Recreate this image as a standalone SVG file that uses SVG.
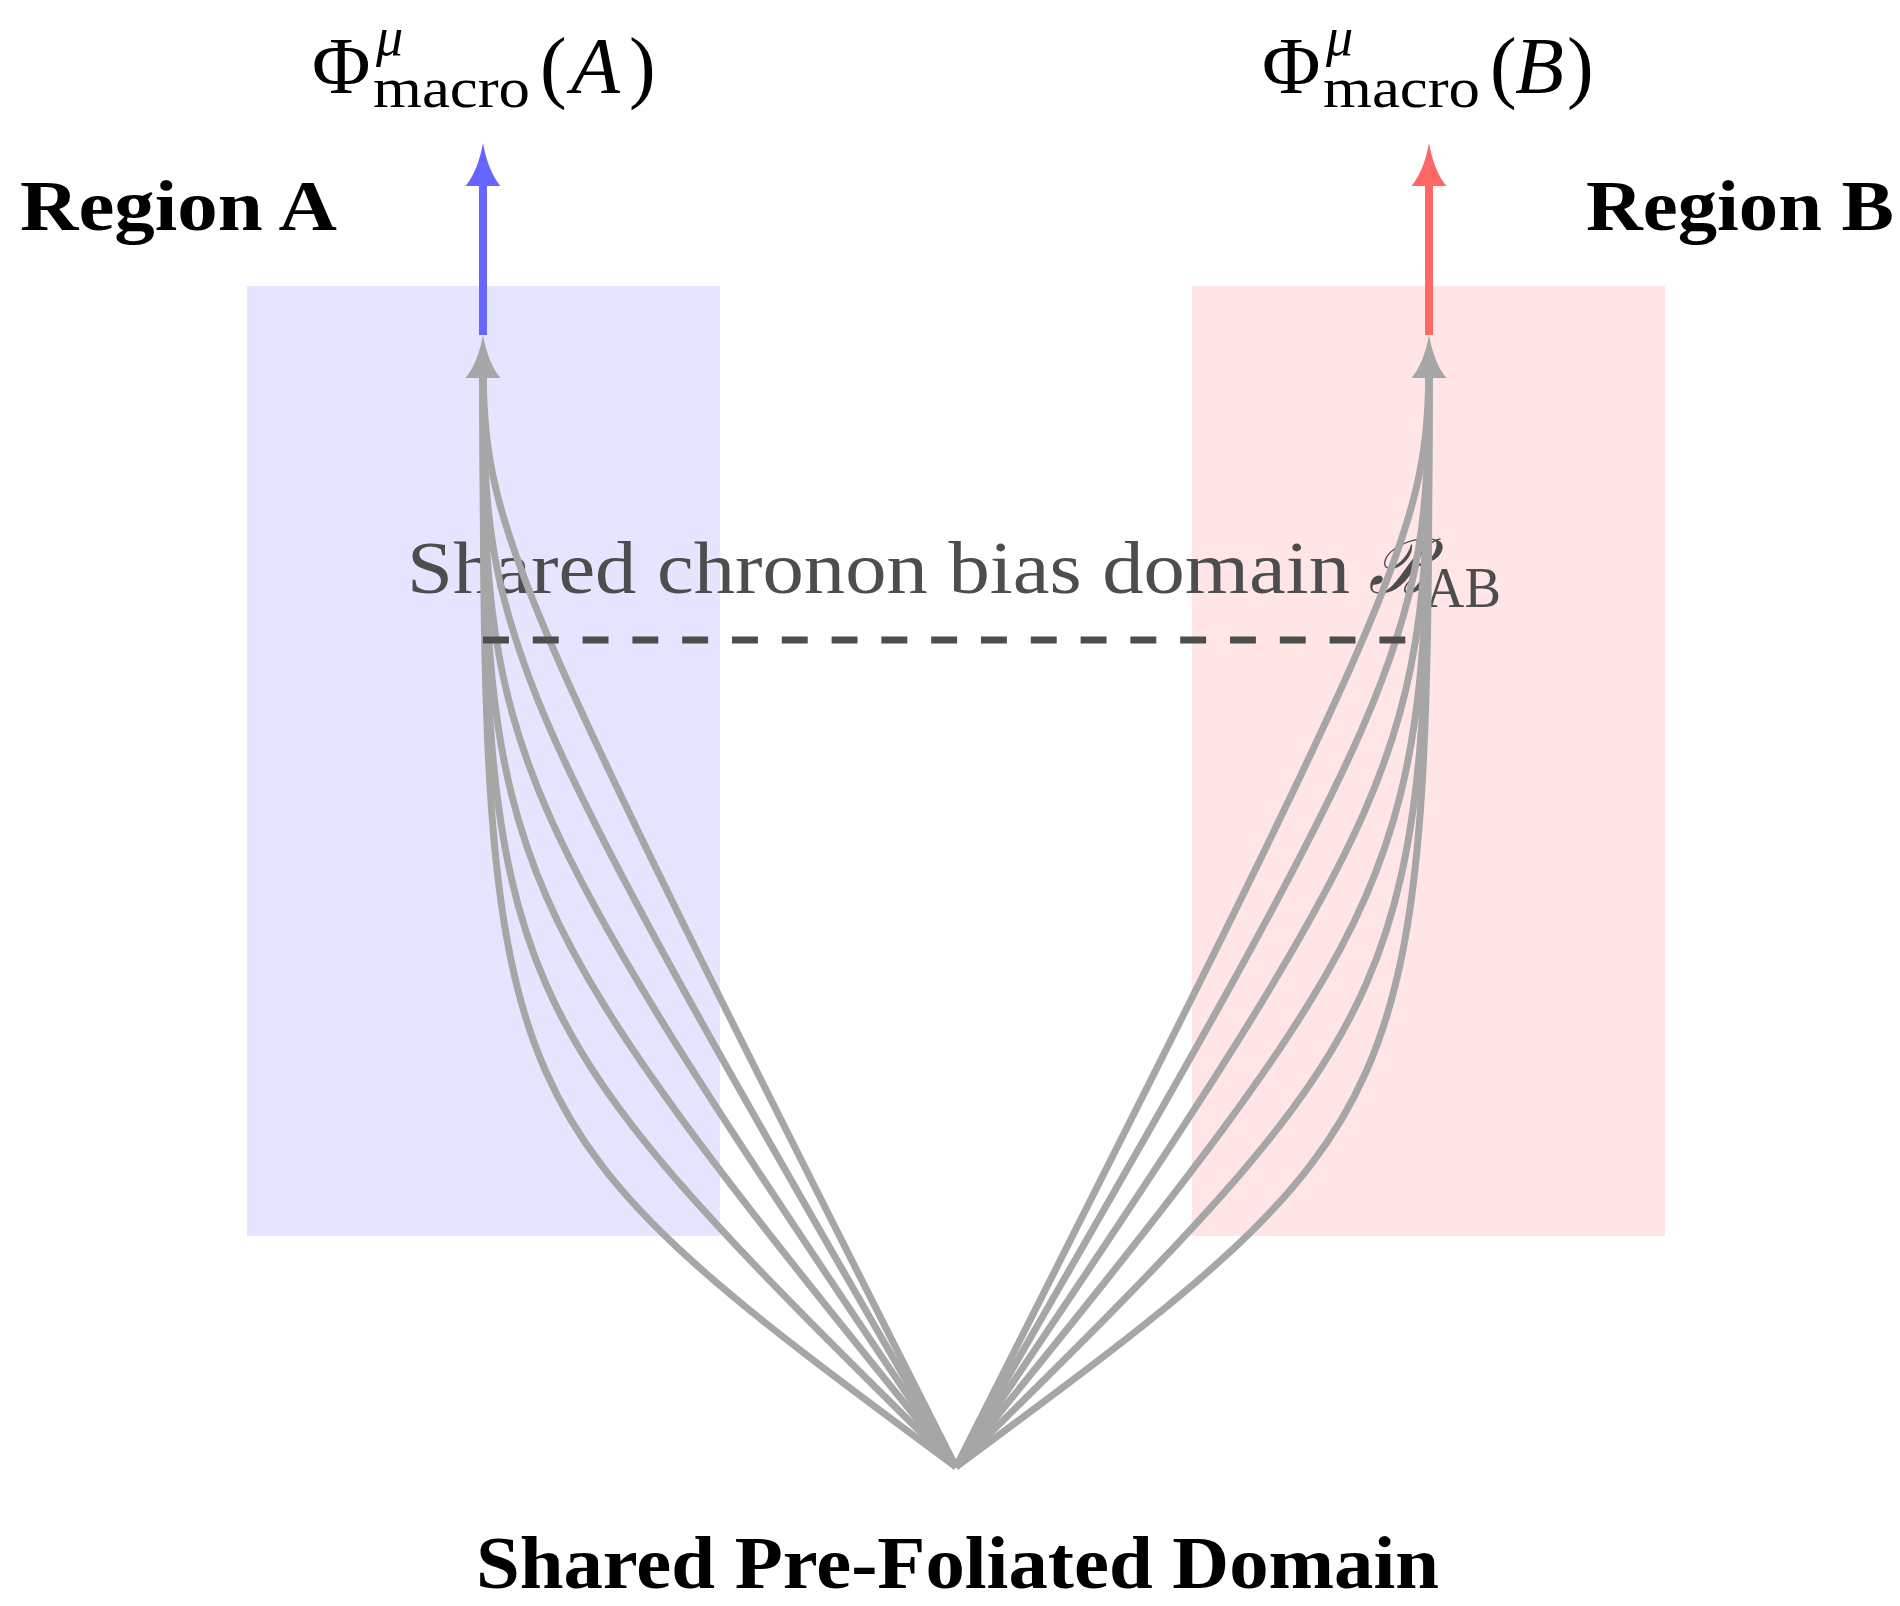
<svg xmlns="http://www.w3.org/2000/svg" width="1900" height="1606" viewBox="0 0 1900 1606">
<style>
.serif{font-family:"Liberation Serif","Times New Roman",serif;}
.bold{font-family:"Liberation Serif","Times New Roman",serif;font-weight:bold;fill:#000;}
.lbl{fill:#4d4d4d;}
.curve{fill:none;stroke:#a6a6a6;stroke-width:7;}
.dash{stroke:#4d4d4d;stroke-width:7;stroke-dasharray:25.9 23.9;fill:none;}
</style>
<defs>
<path id="head" d="M0,0 C3,17 9,33 17.5,43 L-17.5,43 C-9,33 -3,17 0,0 Z"/>
</defs>
<rect width="1900" height="1606" fill="#ffffff"/>
<g id="regionA">
<rect x="247" y="286" width="473" height="950" fill="#e5e5ff"/>
<text class="bold" x="20" y="230" font-size="71" textLength="317" lengthAdjust="spacingAndGlyphs">Region A</text>
</g>
<g id="regionB">
<rect x="1192" y="286" width="473" height="950" fill="#ffe5e5"/>
<text class="bold" x="1586" y="230" font-size="71" textLength="308" lengthAdjust="spacingAndGlyphs">Region B</text>
</g>
<g id="biasLabel">
<text class="serif lbl" x="407" y="593" font-size="74"><tspan textLength="943" lengthAdjust="spacingAndGlyphs">Shared chronon bias domain</tspan><tspan x="1368" y="593" font-size="76" font-style="italic">ℬ</tspan><tspan x="1425" y="607" font-size="56" textLength="76" lengthAdjust="spacingAndGlyphs">AB</tspan></text>
</g>
<g id="connectors">
<g id="fanA">
<path class="curve" d="M956,1467 C491.4,1123.2 483.15,1117.1 483,376"/>
<path class="curve" d="M956,1467 C492.9,1009.8 483.2,1000.2 483,376"/>
<path class="curve" d="M956,1467 C495.2,897 483.3,882.4 483,376"/>
<path class="curve" d="M956,1467 C498.6,788.1 483.5,765.8 483,376"/>
<path class="curve" d="M956,1467 C504.7,684.6 484,648.7 483,376"/>
<path class="curve" d="M956,1467 C518.4,600.2 485.7,535.2 483.2,376"/>
<use href="#head" x="483" y="335" fill="#a6a6a6"/>
</g>
<g id="fanB">
<path class="curve" d="M956,1467 C1420.6,1123.2 1428.85,1117.1 1429,376"/>
<path class="curve" d="M956,1467 C1419.1,1009.8 1428.8,1000.2 1429,376"/>
<path class="curve" d="M956,1467 C1416.8,897 1428.7,882.4 1429,376"/>
<path class="curve" d="M956,1467 C1413.4,788.1 1428.5,765.8 1429,376"/>
<path class="curve" d="M956,1467 C1407.3,684.6 1428,648.7 1429,376"/>
<path class="curve" d="M956,1467 C1393.6,600.2 1426.3,535.2 1428.8,376"/>
<use href="#head" x="1429" y="335" fill="#a6a6a6"/>
</g>
<line id="biasLine" class="dash" x1="483" y1="640" x2="1406" y2="640"/>
<g id="outA">
<line x1="483" y1="335" x2="483" y2="186" stroke="#6666ff" stroke-width="8"/>
<use href="#head" x="483" y="143" fill="#6666ff"/>
</g>
<g id="outB">
<line x1="1429" y1="335" x2="1429" y2="186" stroke="#ff6666" stroke-width="8"/>
<use href="#head" x="1429" y="143" fill="#ff6666"/>
</g>
</g>
<g id="phiA">
<text class="serif" fill="#000" x="312" y="93" font-size="80">Φ<tspan x="376" y="55" font-size="54" font-style="italic">μ</tspan><tspan x="373" y="107" font-size="56" textLength="157" lengthAdjust="spacingAndGlyphs">macro</tspan><tspan x="540" y="93">(</tspan><tspan x="571" y="93" font-style="italic">A</tspan><tspan x="629" y="93">)</tspan></text>
</g>
<g id="phiB">
<text class="serif" fill="#000" x="1262" y="93" font-size="80">Φ<tspan x="1326" y="55" font-size="54" font-style="italic">μ</tspan><tspan x="1323" y="107" font-size="56" textLength="157" lengthAdjust="spacingAndGlyphs">macro</tspan><tspan x="1490" y="93">(</tspan><tspan x="1515" y="93" font-style="italic">B</tspan><tspan x="1567" y="93">)</tspan></text>
</g>
<g id="domain">
<text class="bold" x="476" y="1588" font-size="74" textLength="963" lengthAdjust="spacingAndGlyphs">Shared Pre-Foliated Domain</text>
</g>
</svg>
